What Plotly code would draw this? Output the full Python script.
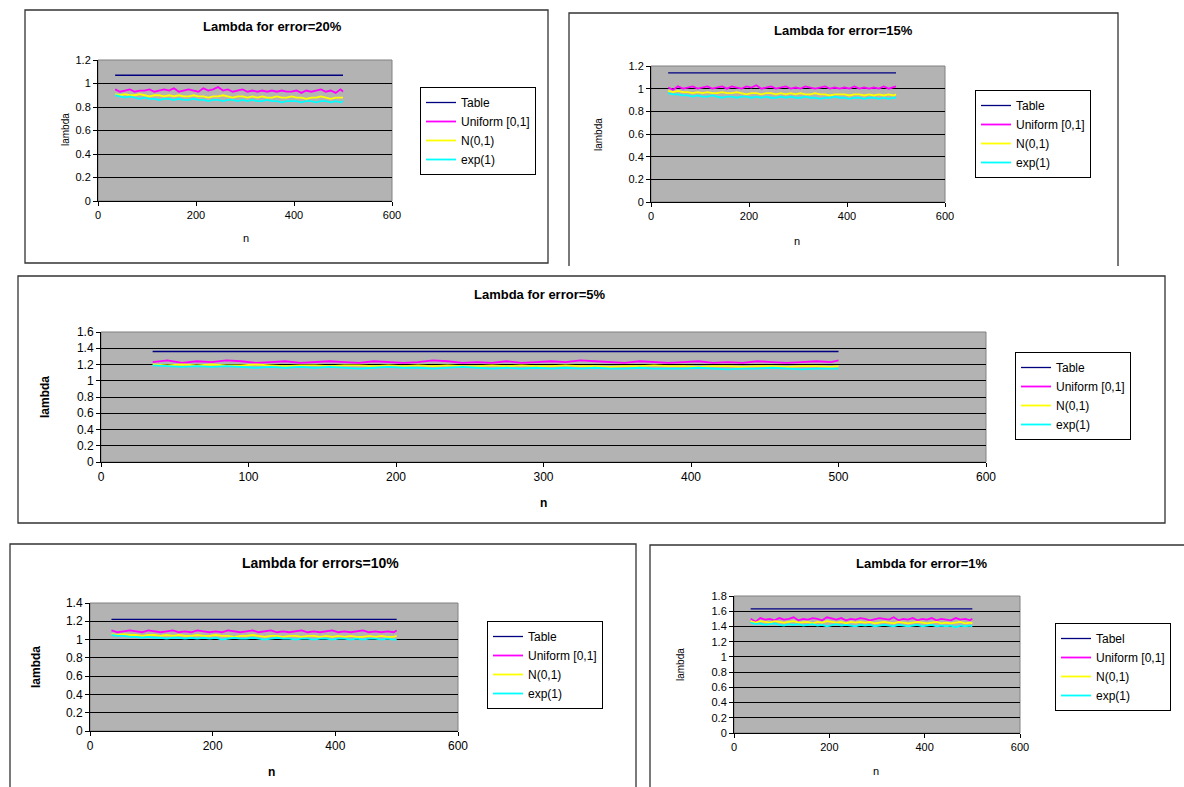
import plotly.graph_objects as go

W, H = 1184, 787

# ---------------- data ----------------
n = [35, 45, 55, 65, 75, 85, 95, 105, 115, 125, 135, 145,
     155, 165, 175, 185, 195, 205, 215, 225, 235, 245, 255, 265,
     275, 285, 295, 305, 315, 325, 335, 345, 355, 365, 375, 385,
     395, 405, 415, 425, 435, 445, 455, 465, 475, 485, 495, 500]
table_x = [35, 500]

# error = 20%
table_20 = [1.07, 1.07]
unif_20 = [0.95, 0.93, 0.94, 0.95, 0.93, 0.94, 0.94, 0.95, 0.93, 0.94, 0.95, 0.94,
           0.96, 0.93, 0.94, 0.95, 0.94, 0.93, 0.96, 0.94, 0.95, 0.97, 0.94, 0.95,
           0.93, 0.94, 0.95, 0.93, 0.94, 0.93, 0.94, 0.93, 0.94, 0.93, 0.94, 0.93,
           0.93, 0.94, 0.92, 0.94, 0.93, 0.94, 0.95, 0.93, 0.94, 0.92, 0.95, 0.93]
norm_20 = [0.91, 0.90, 0.91, 0.90, 0.90, 0.91, 0.90, 0.89, 0.90, 0.90, 0.89, 0.90,
           0.89, 0.90, 0.89, 0.89, 0.90, 0.89, 0.89, 0.88, 0.89, 0.89, 0.90, 0.89,
           0.88, 0.89, 0.89, 0.88, 0.89, 0.88, 0.89, 0.88, 0.88, 0.89, 0.88, 0.88,
           0.89, 0.88, 0.88, 0.87, 0.88, 0.88, 0.89, 0.88, 0.87, 0.88, 0.88, 0.88]
exp_20 = [0.90, 0.89, 0.88, 0.89, 0.88, 0.87, 0.88, 0.87, 0.87, 0.86, 0.87, 0.87,
          0.86, 0.87, 0.86, 0.86, 0.87, 0.86, 0.86, 0.85, 0.86, 0.86, 0.85, 0.86,
          0.86, 0.85, 0.86, 0.85, 0.86, 0.85, 0.85, 0.86, 0.85, 0.85, 0.84, 0.85,
          0.85, 0.85, 0.84, 0.85, 0.85, 0.84, 0.85, 0.85, 0.84, 0.85, 0.84, 0.85]

# error = 15%
table_15 = [1.14, 1.14]
unif_15 = [1.01, 0.99, 1.02, 1.00, 1.01, 1.02, 1.00, 1.01, 1.02, 1.00, 1.01, 1.02,
           1.00, 1.02, 1.01, 1.00, 1.02, 1.01, 1.03, 1.00, 1.01, 1.02, 1.00, 1.01,
           1.02, 1.00, 1.01, 1.00, 1.02, 1.01, 1.00, 1.01, 1.02, 1.00, 1.01, 1.00,
           1.01, 1.00, 1.02, 1.00, 1.01, 1.00, 1.01, 1.00, 1.02, 1.00, 1.01, 1.02]
norm_15 = [0.98, 0.97, 0.98, 0.97, 0.97, 0.96, 0.97, 0.96, 0.97, 0.96, 0.96, 0.97,
           0.96, 0.96, 0.97, 0.96, 0.95, 0.96, 0.96, 0.95, 0.96, 0.96, 0.95, 0.96,
           0.95, 0.96, 0.95, 0.96, 0.95, 0.95, 0.96, 0.95, 0.95, 0.94, 0.95, 0.95,
           0.95, 0.94, 0.95, 0.95, 0.94, 0.95, 0.94, 0.95, 0.94, 0.95, 0.94, 0.95]
exp_15 = [0.96, 0.95, 0.95, 0.94, 0.94, 0.93, 0.94, 0.93, 0.93, 0.94, 0.93, 0.92,
          0.93, 0.93, 0.92, 0.93, 0.93, 0.92, 0.93, 0.92, 0.93, 0.92, 0.92, 0.93,
          0.92, 0.93, 0.92, 0.92, 0.93, 0.92, 0.92, 0.91, 0.92, 0.92, 0.93, 0.92,
          0.92, 0.91, 0.92, 0.92, 0.91, 0.92, 0.92, 0.91, 0.92, 0.91, 0.92, 0.92]

# error = 5%
table_5 = [1.36, 1.36]
unif_5 = [1.23, 1.25, 1.22, 1.24, 1.23, 1.25, 1.24, 1.22, 1.23, 1.24, 1.22, 1.23,
          1.24, 1.23, 1.22, 1.24, 1.23, 1.22, 1.23, 1.25, 1.24, 1.22, 1.23, 1.22,
          1.24, 1.22, 1.23, 1.24, 1.23, 1.25, 1.24, 1.23, 1.22, 1.24, 1.23, 1.22,
          1.23, 1.24, 1.22, 1.23, 1.22, 1.24, 1.23, 1.22, 1.23, 1.24, 1.23, 1.25]
norm_5 = [1.20, 1.19, 1.20, 1.19, 1.20, 1.19, 1.19, 1.20, 1.19, 1.18, 1.19, 1.19,
          1.18, 1.19, 1.19, 1.18, 1.19, 1.18, 1.19, 1.18, 1.19, 1.18, 1.18, 1.19,
          1.18, 1.19, 1.18, 1.18, 1.19, 1.18, 1.18, 1.17, 1.18, 1.18, 1.19, 1.18,
          1.18, 1.17, 1.18, 1.18, 1.17, 1.18, 1.18, 1.17, 1.18, 1.18, 1.17, 1.18]
exp_5 = [1.19, 1.18, 1.17, 1.18, 1.17, 1.18, 1.17, 1.16, 1.17, 1.16, 1.17, 1.16,
         1.17, 1.16, 1.15, 1.16, 1.17, 1.16, 1.16, 1.15, 1.16, 1.17, 1.16, 1.15,
         1.16, 1.15, 1.16, 1.15, 1.16, 1.15, 1.16, 1.15, 1.15, 1.16, 1.15, 1.15,
         1.15, 1.16, 1.15, 1.14, 1.15, 1.15, 1.16, 1.15, 1.14, 1.15, 1.15, 1.15]

# error = 10%
table_10 = [1.22, 1.22]
unif_10 = [1.10, 1.08, 1.09, 1.10, 1.09, 1.08, 1.10, 1.09, 1.08, 1.09, 1.10, 1.08,
           1.09, 1.08, 1.10, 1.09, 1.08, 1.09, 1.08, 1.10, 1.09, 1.08, 1.09, 1.10,
           1.08, 1.09, 1.10, 1.08, 1.09, 1.08, 1.09, 1.10, 1.08, 1.09, 1.08, 1.09,
           1.10, 1.08, 1.09, 1.08, 1.09, 1.10, 1.08, 1.09, 1.08, 1.09, 1.08, 1.10]
norm_10 = [1.06, 1.05, 1.06, 1.05, 1.05, 1.04, 1.05, 1.05, 1.04, 1.05, 1.04, 1.05,
           1.04, 1.04, 1.05, 1.04, 1.04, 1.05, 1.04, 1.04, 1.03, 1.04, 1.04, 1.05,
           1.04, 1.03, 1.04, 1.04, 1.03, 1.04, 1.04, 1.03, 1.04, 1.04, 1.03, 1.04,
           1.03, 1.04, 1.03, 1.04, 1.03, 1.03, 1.04, 1.03, 1.04, 1.03, 1.03, 1.04]
exp_10 = [1.05, 1.04, 1.04, 1.03, 1.03, 1.02, 1.03, 1.02, 1.02, 1.01, 1.02, 1.02,
          1.01, 1.02, 1.01, 1.02, 1.01, 1.02, 1.00, 1.01, 1.02, 1.01, 1.01, 1.02,
          1.01, 1.00, 1.01, 1.02, 1.01, 1.01, 1.00, 1.01, 1.01, 1.00, 1.01, 1.01,
          1.00, 1.01, 1.01, 1.00, 1.01, 1.00, 1.01, 1.01, 1.00, 1.01, 1.00, 1.00]

# error = 1%
table_1 = [1.63, 1.63]
unif_1 = [1.50, 1.46, 1.51, 1.49, 1.50, 1.48, 1.51, 1.49, 1.50, 1.52, 1.48, 1.50,
          1.49, 1.51, 1.50, 1.48, 1.52, 1.50, 1.49, 1.51, 1.48, 1.50, 1.49, 1.51,
          1.50, 1.48, 1.49, 1.51, 1.50, 1.49, 1.52, 1.48, 1.50, 1.49, 1.51, 1.48,
          1.50, 1.49, 1.51, 1.48, 1.50, 1.49, 1.48, 1.51, 1.49, 1.50, 1.48, 1.50]
norm_1 = [1.47, 1.45, 1.47, 1.46, 1.45, 1.47, 1.46, 1.45, 1.46, 1.47, 1.45, 1.46,
          1.46, 1.44, 1.46, 1.45, 1.47, 1.46, 1.45, 1.46, 1.44, 1.46, 1.45, 1.46,
          1.45, 1.46, 1.44, 1.45, 1.46, 1.45, 1.44, 1.46, 1.45, 1.44, 1.45, 1.46,
          1.45, 1.44, 1.45, 1.46, 1.44, 1.45, 1.44, 1.45, 1.46, 1.44, 1.45, 1.44]
exp_1 = [1.45, 1.43, 1.44, 1.42, 1.43, 1.44, 1.42, 1.41, 1.43, 1.42, 1.43, 1.41,
         1.42, 1.43, 1.41, 1.42, 1.40, 1.42, 1.43, 1.41, 1.42, 1.41, 1.40, 1.42,
         1.41, 1.42, 1.40, 1.41, 1.42, 1.41, 1.40, 1.42, 1.41, 1.40, 1.41, 1.42,
         1.40, 1.41, 1.42, 1.40, 1.41, 1.40, 1.41, 1.39, 1.41, 1.40, 1.41, 1.40]

titles = ["Lambda for error=20%", "Lambda for error=15%", "Lambda for error=5%",
          "Lambda for errors=10%", "Lambda for error=1%"]
table_names = ["Table", "Table", "Table", "Table", "Tabel"]
series_names = ["Uniform [0,1]", "N(0,1)", "exp(1)"]
y_max = [1.2, 1.2, 1.6, 1.4, 1.8]
x_step = [200, 200, 100, 200, 200]
tables = [table_20, table_15, table_5, table_10, table_1]
unifs = [unif_20, unif_15, unif_5, unif_10, unif_1]
norms = [norm_20, norm_15, norm_5, norm_10, norm_1]
exps = [exp_20, exp_15, exp_5, exp_10, exp_1]

# ---------------- layout (pixel geometry) ----------------
plots = [(98, 392, 60, 201), (651, 945, 66, 202), (101, 986, 332, 462),
         (90, 458, 603, 731), (734, 1020, 596, 733)]
frames = [(25, 10, 548, 263), (569, 13, 1118, 266), (18, 276, 1165, 523),
          (10, 544, 636, 800), (650, 545, 1200, 800)]
title_pos = [(272, 26), (843, 31), (540, 294), (320, 563), (922, 563)]
title_size = [13, 13, 13, 14, 13]
ylab_pos = [(65, 130), (598, 135), (45, 397), (36, 667), (680, 665)]
xlab_pos = [(246, 238), (797, 241), (543, 503), (271, 772), (876, 771)]
legend_pos = [(420, 87), (975, 90), (1015, 352), (487, 621), (1055, 623)]
tick_size = [11, 11, 12, 12, 11]
bold_labels = [False, False, True, True, False]

COL_TABLE = "#000080"
COL_UNIF = "#ff00ff"
COL_NORM = "#ffff00"
COL_EXP = "#00ffff"
FONT = "Liberation Sans, Arial, sans-serif"


def px(x):
    return x / W


def py(y):
    return 1 - y / H


fig = go.Figure()
annotations = []
shapes = []
layout = dict(
    width=W, height=H,
    margin=dict(l=0, r=0, t=0, b=0, autoexpand=False),
    paper_bgcolor="white", plot_bgcolor="#b3b3b3",
    font=dict(family=FONT, color="black"),
    showlegend=True,
)

for i in range(5):
    k = "" if i == 0 else str(i + 1)
    xa, ya = "x" + k, "y" + k
    leg = "legend" + k
    fig.add_trace(go.Scatter(x=table_x, y=tables[i], mode="lines", name=table_names[i],
                             line=dict(color=COL_TABLE, width=1.3), xaxis=xa, yaxis=ya,
                             legend=leg))
    for name, ys, col in zip(series_names, [unifs[i], norms[i], exps[i]],
                             [COL_UNIF, COL_NORM, COL_EXP]):
        fig.add_trace(go.Scatter(x=n, y=ys, mode="lines", name=name,
                                 line=dict(color=col, width=1.8), xaxis=xa, yaxis=ya,
                                 legend=leg))

    l, r, t, b = plots[i]
    layout["xaxis" + k] = dict(
        domain=[px(l), px(r)], anchor=ya, range=[0, 600], dtick=x_step[i], tick0=0,
        showgrid=False, zeroline=False, showline=True, linecolor="black", linewidth=1,
        ticks="outside", ticklen=4, tickcolor="black",
        tickfont=dict(size=tick_size[i], family=FONT, color="black"), fixedrange=True)
    layout["yaxis" + k] = dict(
        domain=[py(b), py(t)], anchor=xa, range=[0, y_max[i]], dtick=0.2, tick0=0,
        showgrid=True, gridcolor="black", gridwidth=1, zeroline=False,
        showline=True, linecolor="black", linewidth=1,
        ticks="outside", ticklen=4, tickcolor="black",
        tickfont=dict(size=tick_size[i], family=FONT, color="black"), fixedrange=True)

    lx, ly = legend_pos[i]
    layout[leg] = dict(
        x=px(lx), y=py(ly), xanchor="left", yanchor="top", xref="paper", yref="paper",
        bgcolor="white", bordercolor="black", borderwidth=1,
        font=dict(size=12, family=FONT, color="black"), traceorder="normal",
        tracegroupgap=0)

    shapes.append(dict(type="rect", xref=xa + " domain", yref=ya + " domain",
                       x0=0, x1=1, y0=0, y1=1, line=dict(color="#808080", width=1),
                       layer="below"))
    fl, ft, fr, fb = frames[i]
    if i == 1:
        shapes.append(dict(type="path", xref="paper", yref="paper",
                           path=f"M {px(fl)} {py(fb)} L {px(fl)} {py(ft)} L {px(fr)} {py(ft)} L {px(fr)} {py(fb)}",
                           line=dict(color="#333333", width=1.3)))
    else:
        shapes.append(dict(type="rect", xref="paper", yref="paper",
                           x0=px(fl), x1=px(fr), y0=py(fb), y1=py(ft),
                           line=dict(color="#333333", width=1.3)))

    tx, ty = title_pos[i]
    annotations.append(dict(text="<b>" + titles[i] + "</b>", x=px(tx), y=py(ty),
                            xref="paper", yref="paper", showarrow=False,
                            xanchor="center", yanchor="middle",
                            font=dict(size=title_size[i], family=FONT)))
    bx = bold_labels[i]
    yx, yy = ylab_pos[i]
    annotations.append(dict(text=("<b>lambda</b>" if bx else "lambda"), x=px(yx), y=py(yy),
                            xref="paper", yref="paper", showarrow=False, textangle=-90,
                            xanchor="center", yanchor="middle",
                            font=dict(size=12 if bx else 10, family=FONT)))
    nx, ny = xlab_pos[i]
    annotations.append(dict(text=("<b>n</b>" if bx else "n"), x=px(nx), y=py(ny),
                            xref="paper", yref="paper", showarrow=False,
                            xanchor="center", yanchor="middle",
                            font=dict(size=12 if bx else 11, family=FONT)))

layout["annotations"] = annotations
layout["shapes"] = shapes
fig.update_layout(**layout)
fig.write_html("out.html", config={"displayModeBar": False})
